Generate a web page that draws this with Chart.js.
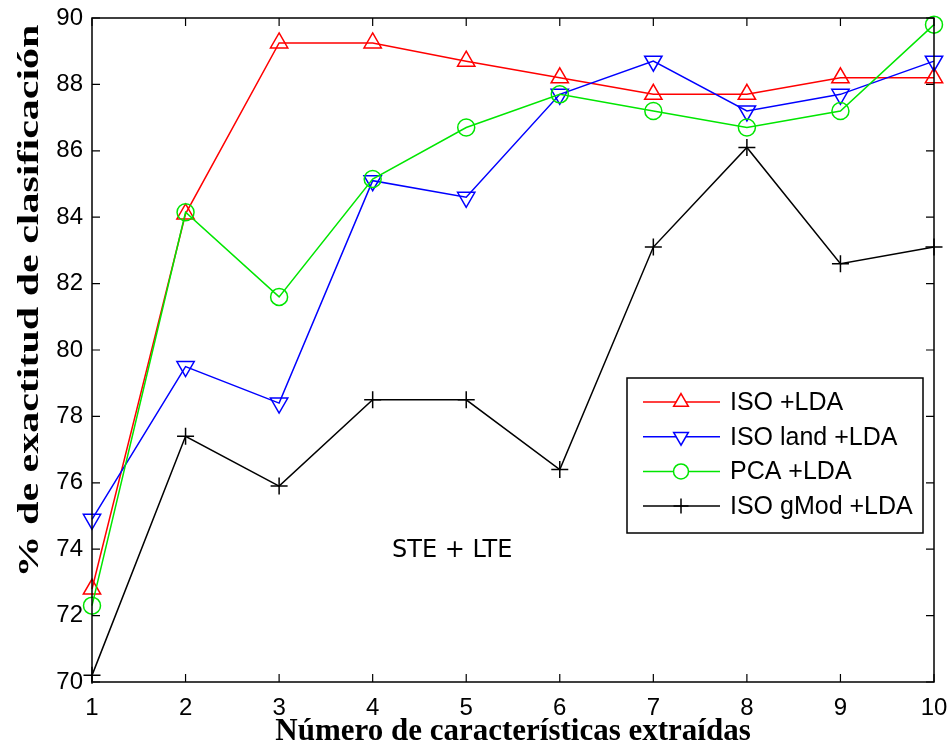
<!DOCTYPE html>
<html>
<head>
<meta charset="utf-8">
<script src="https://cdn.jsdelivr.net/npm/chart.js@4"></script>
<style>
  body { margin: 0; background: #fff; }
  #wrap { width: 952px; height: 750px; }
</style>
</head>
<body>
<div id="wrap"><canvas id="chart" width="952" height="750"></canvas></div>
<script>
// data
const numFeatures = ['1', '2', '3', '4', '5', '6', '7', '8', '9', '10'];
const isoLda     = [72.8, 84.1, 89.25, 89.25, 88.7, 88.2, 87.7, 87.7, 88.2, 88.2];
const isoLandLda = [74.9, 79.5, 78.4, 85.1, 84.6, 87.7, 88.7, 87.2, 87.7, 88.7];
const pcaLda     = [72.3, 84.15, 81.6, 85.15, 86.7, 87.7, 87.2, 86.7, 87.2, 89.8];
const isoGmodLda = [70.2, 77.4, 75.9, 78.5, 78.5, 76.4, 83.1, 86.1, 82.6, 83.1];
const yTicks = [70, 72, 74, 76, 78, 80, 82, 84, 86, 88, 90];

const yTitle = '% de exactitud de clasificación';
const xTitle = 'Número de características extraídas';
const note = 'STE + LTE';

function series(label, data, color, style, rot, order) {
    return {
        label: label,
        data: data,
        borderColor: color,
        backgroundColor: 'rgba(0,0,0,0)',
        borderWidth: 1.5,
        pointStyle: style,
        pointRotation: rot,
        pointRadius: style === 'circle' ? 8.5 : (style === 'cross' ? 8.5 : 10),
        pointBorderColor: color,
        pointBackgroundColor: 'rgba(0,0,0,0)',
        pointBorderWidth: 1.5,
        tension: 0,
        clip: false,
        order: order
    };
}

// inward ticks + box frame, like the matlab axes
const framePlugin = {
    id: 'frame',
    afterDatasetsDraw(chart) {
        const {ctx, chartArea: a, scales: {x, y}} = chart;
        ctx.save();
        ctx.strokeStyle = '#000';
        ctx.lineWidth = 1.5;
        ctx.strokeRect(a.left, a.top, a.right - a.left, a.bottom - a.top);
        ctx.lineWidth = 1.2;
        ctx.beginPath();
        numFeatures.forEach((_, i) => {
            const px = x.getPixelForValue(i);
            ctx.moveTo(px, a.bottom); ctx.lineTo(px, a.bottom - 8);
            ctx.moveTo(px, a.top); ctx.lineTo(px, a.top + 8);
        });
        yTicks.forEach(v => {
            const py = y.getPixelForValue(v);
            ctx.moveTo(a.left, py); ctx.lineTo(a.left + 8, py);
            ctx.moveTo(a.right, py); ctx.lineTo(a.right - 8, py);
        });
        ctx.stroke();

        // y axis title (stretched like in the original figure)
        ctx.fillStyle = '#000';
        ctx.font = 'bold 30px "Liberation Serif"';
        ctx.textAlign = 'center';
        ctx.textBaseline = 'middle';
        ctx.save();
        ctx.translate(30, 301);
        ctx.rotate(-Math.PI / 2);
        ctx.scale(1.4, 1);
        ctx.fillText(yTitle, 0, 0);
        ctx.restore();

        // annotation
        ctx.font = '24px "DejaVu Sans"';
        ctx.fillText(note, x.getPixelForValue(3.85), y.getPixelForValue(73.95));

        // legend box
        const bx = a.right - 307, by = a.top + 360, bw = 296, bh = 155;
        ctx.fillStyle = '#fff';
        ctx.fillRect(bx, by, bw, bh);
        ctx.strokeStyle = '#000';
        ctx.lineWidth = 1.5;
        ctx.strokeRect(bx, by, bw, bh);
        chart.data.datasets.forEach((ds, i) => {
            const ry = by + 24 + i * 34.7;
            ctx.strokeStyle = ds.borderColor;
            ctx.lineWidth = 1.5;
            ctx.beginPath();
            ctx.moveTo(bx + 16, ry);
            ctx.lineTo(bx + 93, ry);
            ctx.stroke();
            ctx.fillStyle = '#fff';
            Chart.helpers.drawPoint(ctx, {
                pointStyle: ds.pointStyle,
                rotation: ds.pointRotation,
                radius: ds.pointStyle === 'triangle' ? 8.5 : 7.5,
                borderWidth: 1.5
            }, bx + 54, ry);
            ctx.fillStyle = '#000';
            ctx.font = '25px "Liberation Sans"';
            ctx.textAlign = 'left';
            ctx.textBaseline = 'middle';
            ctx.fillText(ds.label, bx + 103, ry + 1);
        });
        ctx.restore();
    }
};

const ctx = document.getElementById('chart').getContext('2d');
new Chart(ctx, {
    type: 'line',
    data: {
        labels: numFeatures,
        datasets: [
            series('ISO +LDA', isoLda, '#ff0000', 'triangle', 0, 4),
            series('ISO land +LDA', isoLandLda, '#0000ff', 'triangle', 180, 3),
            series('PCA +LDA', pcaLda, '#00e600', 'circle', 0, 2),
            series('ISO gMod +LDA', isoGmodLda, '#000000', 'cross', 0, 1)
        ]
    },
    options: {
        responsive: false,
        animation: false,
        layout: { padding: { top: 18, right: 18, left: 0, bottom: 0 } },
        plugins: {
            legend: { display: false },
            tooltip: { enabled: false }
        },
        scales: {
            x: {
                offset: false,
                grid: { display: false, drawTicks: false },
                border: { display: false },
                ticks: {
                    color: '#000',
                    font: { family: 'Liberation Sans', size: 24 },
                    padding: 12,
                    maxRotation: 0
                },
                title: {
                    display: true,
                    text: xTitle,
                    color: '#000',
                    font: { family: 'Liberation Serif', size: 31, weight: 'bold', lineHeight: 1 },
                    padding: { top: 0, bottom: 3 }
                },
                afterFit: s => { s.height = 68; s.paddingLeft = 0; s.paddingRight = 0; }
            },
            y: {
                min: 70,
                max: 90,
                grid: { display: false, drawTicks: false },
                border: { display: false },
                ticks: {
                    stepSize: 2,
                    color: '#000',
                    font: { family: 'Liberation Sans', size: 24 },
                    padding: 9
                },
                afterFit: s => { s.width = 92; s.paddingTop = 0; s.paddingBottom = 0; }
            }
        }
    },
    plugins: [framePlugin]
});
</script>
</body>
</html>
